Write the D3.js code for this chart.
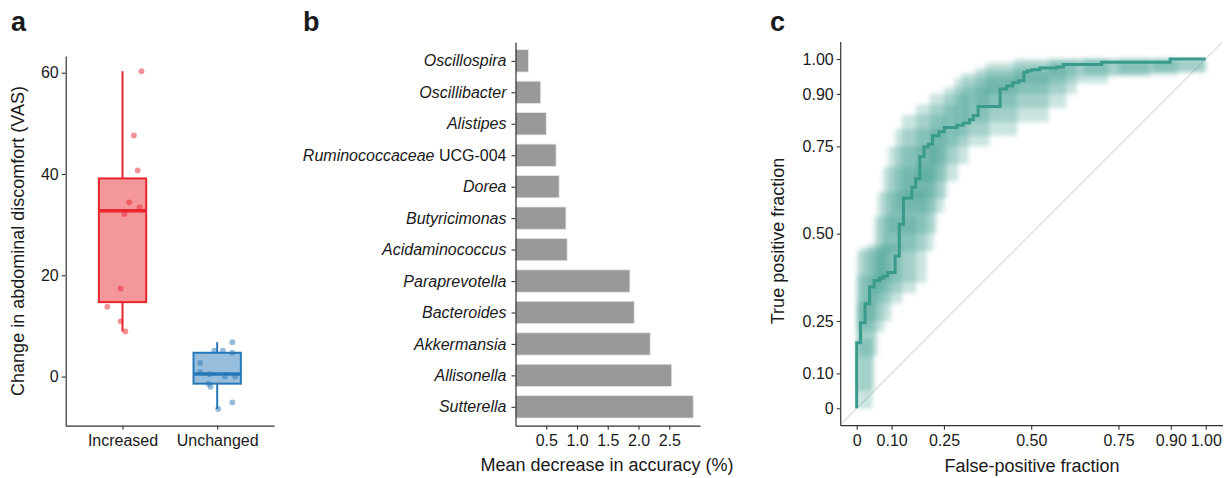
<!DOCTYPE html>
<html>
<head>
<meta charset="utf-8">
<script src="https://cdn.jsdelivr.net/npm/d3@7"></script>
<style>
  body { margin: 0; background: #fff; }
  text { font-family: "Liberation Sans", Arial, sans-serif; fill: #1a1a1a; }
</style>
</head>
<body>
<script>
// ---- data ----
// panel a: change in VAS per group, with the horizontal jitter seen in the picture
var groups = ["Increased", "Unchanged"];
var increasedVals = [60.3, 47.6, 40.7, 34.4, 33.4, 32.1, 17.4, 13.8, 10.9, 8.9];
var increasedJit  = [0.20, 0.12, 0.16, 0.07, 0.18, 0.02, -0.02, -0.16, -0.02, 0.03];
var unchangedVals = [6.8, 5.1, 5.1, 4.7, 2.7, 0.9, 0.5, 0, 0, -1.4, -2.0, -5.1, -6.4];
var unchangedJit  = [0.16, -0.03, 0.06, 0.16, -0.18, -0.18, -0.08, 0.08, 0.19, -0.09, -0.07, 0.16, 0.01];
var vasTicks = [0, 20, 40, 60];

// panel b: random forest importance
var genera = ["Oscillospira", "Oscillibacter", "Alistipes", "Ruminococcaceae UCG-004", "Dorea",
  "Butyricimonas", "Acidaminococcus", "Paraprevotella", "Bacteroides", "Akkermansia",
  "Allisonella", "Sutterella"];
var importance = [0.21, 0.41, 0.50, 0.66, 0.71, 0.82, 0.84, 1.86, 1.93, 2.19, 2.54, 2.89];
var accTicks = [0.5, 1.0, 1.5, 2.0, 2.5];

// panel c: ROC curve (step points) and confidence boxes along it
var rocFpf = [0, 0, 0.011, 0.024, 0.037, 0.05, 0.065, 0.076, 0.089, 0.11, 0.122, 0.134, 0.158,
  0.169, 0.181, 0.193, 0.205, 0.217, 0.236, 0.251, 0.287, 0.305, 0.323, 0.334, 0.348, 0.411,
  0.43, 0.447, 0.464, 0.479, 0.489, 0.501, 0.525, 0.573, 0.592, 0.702, 0.898, 1.0];
var rocTpf = [0, 0.188, 0.245, 0.299, 0.347, 0.365, 0.372, 0.379, 0.389, 0.436, 0.527, 0.602, 0.633,
  0.657, 0.721, 0.748, 0.756, 0.780, 0.792, 0.804, 0.810, 0.817, 0.826, 0.838, 0.864, 0.914,
  0.923, 0.933, 0.938, 0.962, 0.966, 0.969, 0.974, 0.977, 0.984, 0.991, 1.0, 1.0];
var ciFpfLo = [0, 0, 0, 0, 0.01, 0.03, 0.05, 0.06, 0.075, 0.09, 0.11, 0.13, 0.17, 0.21, 0.25,
  0.28, 0.30, 0.34, 0.37, 0.45, 0.55, 0.65, 0.75, 0.85];
var ciFpfHi = [0.045, 0.05, 0.06, 0.08, 0.10, 0.13, 0.17, 0.20, 0.22, 0.23, 0.25, 0.26, 0.29,
  0.32, 0.38, 0.46, 0.55, 0.60, 0.63, 0.72, 0.84, 0.92, 1.0, 1.0];
var ciTpfLo = [0, 0.05, 0.15, 0.22, 0.25, 0.30, 0.33, 0.36, 0.45, 0.50, 0.56, 0.60, 0.65, 0.70,
  0.75, 0.78, 0.82, 0.86, 0.90, 0.93, 0.95, 0.955, 0.96, 0.965];
var ciTpfHi = [0.20, 0.30, 0.38, 0.45, 0.46, 0.47, 0.55, 0.62, 0.69, 0.75, 0.80, 0.84, 0.87,
  0.90, 0.92, 0.945, 0.96, 0.975, 0.99, 1.0, 1.0, 1.0, 1.0, 1.0];
var rocTicks = [0, 0.10, 0.25, 0.50, 0.75, 0.90, 1.00];

var W = 1226, H = 478;
var axisCol = "#333";

var svg = d3.select("body").append("svg")
  .attr("width", W)
  .attr("height", H);

function styleAxis(g) {
  g.selectAll(".domain").attr("stroke", axisCol).attr("stroke-width", 1.2);
  g.selectAll(".tick line").attr("stroke", axisCol).attr("stroke-width", 1.1);
  g.selectAll(".tick text").attr("font-size", 16).attr("fill", "#1a1a1a")
    .attr("font-family", "Liberation Sans, Arial, sans-serif");
}

function panelLetter(x, txt) {
  svg.append("text").attr("x", x).attr("y", 31)
    .attr("font-size", 27).attr("font-weight", "bold").text(txt);
}

// ================= panel a =================
var ax = d3.scalePoint().domain(groups).range([65.7, 274]).padding(0.6);
var ay = d3.scaleLinear().domain([-9.7, 63.3]).range([425.7, 56]);
var unit = ax.step();

panelLetter(11, "a");

var gA = svg.append("g");
gA.append("g").attr("transform", "translate(65.7,0)")
  .call(d3.axisLeft(ay).tickValues(vasTicks).tickSize(4).tickPadding(3).tickSizeOuter(0))
  .call(styleAxis);
gA.append("g").attr("transform", "translate(0,425.7)")
  .call(d3.axisBottom(ax).tickSize(4).tickPadding(5).tickSizeOuter(0))
  .call(styleAxis);

gA.append("text")
  .attr("transform", "translate(24,241) rotate(-90)")
  .attr("text-anchor", "middle").attr("font-size", 18)
  .text("Change in abdominal discomfort (VAS)");

var groupData = [
  { name: "Increased", vals: increasedVals, jit: increasedJit, col: "#e8262e" },
  { name: "Unchanged", vals: unchangedVals, jit: unchangedJit, col: "#2878b8" }
];

groupData.forEach(function(g) {
  var s = g.vals.slice().sort(d3.ascending);
  var q1 = d3.quantile(s, 0.25), med = d3.quantile(s, 0.5), q3 = d3.quantile(s, 0.75);
  var iqr = q3 - q1;
  var lo = d3.min(s.filter(v => v >= q1 - 1.5 * iqr));
  var hi = d3.max(s.filter(v => v <= q3 + 1.5 * iqr));
  var cx = ax(g.name), bw = unit * 0.5;

  gA.append("line").attr("x1", cx).attr("x2", cx).attr("y1", ay(hi)).attr("y2", ay(q3))
    .attr("stroke", g.col).attr("stroke-width", 2);
  gA.append("line").attr("x1", cx).attr("x2", cx).attr("y1", ay(q1)).attr("y2", ay(lo))
    .attr("stroke", g.col).attr("stroke-width", 2);
  gA.append("rect").attr("x", cx - bw / 2).attr("width", bw)
    .attr("y", ay(q3)).attr("height", ay(q1) - ay(q3))
    .attr("fill", g.col).attr("fill-opacity", 0.48)
    .attr("stroke", g.col).attr("stroke-width", 2);
  gA.append("line").attr("x1", cx - bw / 2).attr("x2", cx + bw / 2)
    .attr("y1", ay(med)).attr("y2", ay(med))
    .attr("stroke", g.col).attr("stroke-width", 3.5);

  gA.selectAll(null).data(g.vals).enter().append("circle")
    .attr("cx", (d, i) => cx + g.jit[i] * unit)
    .attr("cy", d => ay(d))
    .attr("r", 2.9)
    .attr("fill", g.col).attr("fill-opacity", 0.5)
    .attr("stroke", "none");
});

// ================= panel b =================
var bx = d3.scaleLinear().domain([0, 3]).range([515.5, 700]);
var by = d3.scalePoint().domain(genera).range([42, 425.7]).padding(0.6);
var bh = by.step() * 0.71;

panelLetter(303, "b");

var gB = svg.append("g");
gB.selectAll("rect").data(genera).enter().append("rect")
  .attr("x", bx(0))
  .attr("y", d => by(d) - bh / 2)
  .attr("width", (d, i) => bx(importance[i]) - bx(0))
  .attr("height", bh)
  .attr("fill", "#999999")
  .attr("stroke", "#e6e6e6").attr("stroke-width", 0.8);

var yAxB = gB.append("g").attr("transform", "translate(515.5,0)")
  .call(d3.axisLeft(by).tickSize(4).tickPadding(5).tickSizeOuter(0))
  .call(styleAxis);
yAxB.selectAll(".tick text").each(function(d) {
  var t = d3.select(this).text("");
  if (d.indexOf(" ") > 0) {
    var parts = d.split(" ");
    t.append("tspan").attr("font-style", "italic").text(parts[0]);
    t.append("tspan").text(" " + parts.slice(1).join(" "));
  } else {
    t.append("tspan").attr("font-style", "italic").text(d);
  }
});
gB.append("g").attr("transform", "translate(0,425.7)")
  .call(d3.axisBottom(bx).tickValues(accTicks).tickFormat(d3.format(".1f"))
    .tickSize(4).tickPadding(5).tickSizeOuter(0))
  .call(styleAxis);
gB.append("text").attr("x", 607).attr("y", 471)
  .attr("text-anchor", "middle").attr("font-size", 18)
  .text("Mean decrease in accuracy (%)");

// ================= panel c =================
var cxs = d3.scaleLinear().domain([0, 1]).range([856.7, 1205.7]);
var cys = d3.scaleLinear().domain([0, 1]).range([408.3, 59]);
var teal = "#3a9a8b";

panelLetter(770, "c");

var gC = svg.append("g");
var defs = gC.append("defs");
defs.append("clipPath").attr("id", "clipc").append("rect")
  .attr("x", 840.7).attr("y", 42).attr("width", 1223 - 840.7).attr("height", 425.7 - 42);
defs.append("filter").attr("id", "soft")
  .attr("x", "-10%").attr("y", "-10%").attr("width", "120%").attr("height", "120%")
  .append("feGaussianBlur").attr("stdDeviation", 2);

var plotC = gC.append("g").attr("clip-path", "url(#clipc)");
plotC.append("line")
  .attr("x1", cxs(-0.1)).attr("y1", cys(-0.1))
  .attr("x2", cxs(1.1)).attr("y2", cys(1.1))
  .attr("stroke", "#dedede").attr("stroke-width", 1.3);

plotC.append("g").attr("filter", "url(#soft)")
  .selectAll("rect").data(ciFpfLo).enter().append("rect")
  .attr("x", (d, i) => cxs(ciFpfLo[i]))
  .attr("width", (d, i) => cxs(ciFpfHi[i]) - cxs(ciFpfLo[i]))
  .attr("y", (d, i) => cys(ciTpfHi[i]))
  .attr("height", (d, i) => cys(ciTpfLo[i]) - cys(ciTpfHi[i]))
  .attr("fill", teal).attr("fill-opacity", 0.27);

var rocPts = rocFpf.map((f, i) => [f, rocTpf[i]]);
plotC.append("path")
  .attr("d", d3.line().x(d => cxs(d[0])).y(d => cys(d[1])).curve(d3.curveStepAfter)(rocPts))
  .attr("fill", "none").attr("stroke", teal).attr("stroke-width", 3);

var fmtRoc = d => d === 0 ? "0" : d3.format(".2f")(d);
gC.append("g").attr("transform", "translate(840.7,0)")
  .call(d3.axisLeft(cys).tickValues(rocTicks).tickFormat(fmtRoc)
    .tickSize(4).tickPadding(3).tickSizeOuter(0))
  .call(styleAxis)
  .select(".domain").attr("d", "M0," + 42 + "V" + 425.7);
gC.append("g").attr("transform", "translate(0,425.7)")
  .call(d3.axisBottom(cxs).tickValues(rocTicks).tickFormat(fmtRoc)
    .tickSize(4).tickPadding(5).tickSizeOuter(0))
  .call(styleAxis)
  .select(".domain").attr("d", "M" + 840.7 + ",0H" + 1223);

gC.append("text").attr("x", 1032).attr("y", 472)
  .attr("text-anchor", "middle").attr("font-size", 18)
  .text("False-positive fraction");
gC.append("text")
  .attr("transform", "translate(784,241) rotate(-90)")
  .attr("text-anchor", "middle").attr("font-size", 18)
  .text("True positive fraction");
</script>
</body>
</html>
